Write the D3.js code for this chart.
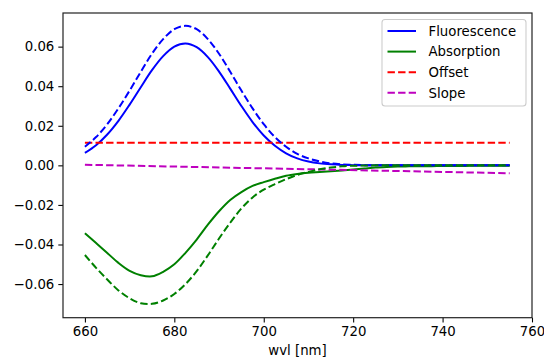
<!DOCTYPE html>
<html>
<head>
<meta charset="utf-8">
<script src="https://cdn.jsdelivr.net/npm/d3@7"></script>
<style>
  html, body { margin: 0; padding: 0; background: #fff; }
  svg { display: block; font-family: "DejaVu Sans", sans-serif; }
</style>
</head>
<body>
<svg id="chart" width="544" height="360"></svg>
<script>
// wavelengths (nm)
const wvl = [660, 662.5, 665, 667.5, 670, 672.5, 675, 677.5, 680, 682.5, 685, 687.5, 690, 692.5, 695, 697.5, 700, 702.5, 705, 707.5, 710, 712.5, 715, 717.5, 720, 722.5, 725, 727.5, 730, 732.5, 735, 737.5, 740, 742.5, 745, 747.5, 750, 752.5, 755];

const fluorescence = [0.0063, 0.0102, 0.0156, 0.0225, 0.0307, 0.0395, 0.0481, 0.0552, 0.0600, 0.0616, 0.0597, 0.0547, 0.0474, 0.0388, 0.0300, 0.0219, 0.0151, 0.0099, 0.0061, 0.0035, 0.0019, 0.0010, 0.0005, 0.0002, 0.0001, 0.0000, 0.0000, 0.0000, 0.0000, 0.0000, 0.0000, 0.0000, 0.0000, 0.0000, 0.0000, 0.0000, 0.0000, 0.0000, 0.0000];

const fluorescenceFit = [0.0094, 0.0143, 0.0208, 0.0288, 0.0378, 0.0473, 0.0564, 0.0638, 0.0688, 0.0705, 0.0688, 0.0638, 0.0564, 0.0473, 0.0378, 0.0288, 0.0208, 0.0143, 0.0094, 0.0058, 0.0035, 0.0020, 0.0010, 0.0005, 0.0003, 0.0001, 0.0000, 0.0000, 0.0000, 0.0000, 0.0000, 0.0000, 0.0000, 0.0000, 0.0000, 0.0000, 0.0000, 0.0000, 0.0000];

const absorption = [-0.0343, -0.0393, -0.0443, -0.0493, -0.0533, -0.0555, -0.0561, -0.0538, -0.0500, -0.0442, -0.0375, -0.0300, -0.0232, -0.0175, -0.0135, -0.0104, -0.0085, -0.0068, -0.0053, -0.0044, -0.0038, -0.0034, -0.0030, -0.0026, -0.0021, -0.0016, -0.0011, -0.0008, -0.0006, -0.0005, -0.0004, -0.0004, -0.0003, -0.0003, -0.0003, -0.0002, -0.0002, -0.0002, -0.0002];

const absorptionFit = [-0.0453, -0.0518, -0.0577, -0.0632, -0.0672, -0.0697, -0.0700, -0.0683, -0.0650, -0.0600, -0.0535, -0.0455, -0.0370, -0.0290, -0.0218, -0.0162, -0.0123, -0.0095, -0.0070, -0.0048, -0.0033, -0.0020, -0.0011, -0.0005, -0.0002, -0.0001, 0.0000, 0.0000, 0.0000, 0.0000, 0.0000, 0.0000, 0.0000, 0.0000, 0.0000, 0.0000, 0.0000, 0.0000, 0.0000];

const lineWvl = [660, 755];
const offset = [0.0114, 0.0114];
const slope = [0.0003, -0.0040];

const xTicks = [660, 680, 700, 720, 740, 760];
const yTicks = [-0.06, -0.04, -0.02, 0.00, 0.02, 0.04, 0.06];
const legendLabels = ["Fluorescence", "Absorption", "Offset", "Slope"];

const svg = d3.select("#chart");
const L = 63, R = 532, T = 13, B = 317.7;

const x = d3.scaleLinear().domain([655.1, 760]).range([L, R]);
const y = d3.scaleLinear().domain([-0.077, 0.077]).range([B, T]);

const plot = svg.append("g");
const clipId = "clip";
svg.append("defs").append("clipPath").attr("id", clipId)
  .append("rect").attr("x", L).attr("y", T).attr("width", R - L).attr("height", B - T);

const line = d3.line().x(d => x(d[0])).y(d => y(d[1])).curve(d3.curveCatmullRom.alpha(0.5));
const dash = "7.4,3.2";

const series = [
  { xs: wvl, ys: fluorescence, color: "#0000ff", dash: null },
  { xs: wvl, ys: absorption, color: "#008000", dash: null },
  { xs: lineWvl, ys: offset, color: "#ff0000", dash: dash },
  { xs: lineWvl, ys: slope, color: "#bf00bf", dash: dash },
  { xs: wvl, ys: fluorescenceFit, color: "#0000ff", dash: dash },
  { xs: wvl, ys: absorptionFit, color: "#008000", dash: dash }
];

const lines = plot.append("g").attr("clip-path", `url(#${clipId})`);
series.forEach(s => {
  lines.append("path")
    .attr("d", line(s.xs.map((v, i) => [v, s.ys[i]])))
    .attr("fill", "none")
    .attr("stroke", s.color)
    .attr("stroke-width", 2)
    .attr("stroke-dasharray", s.dash)
    .attr("stroke-linecap", "butt");
});

// axes
const fmtY = v => d3.format(".2f")(v).replace("-", "\u2212");
const xAxis = svg.append("g").attr("transform", `translate(0,${B})`)
  .call(d3.axisBottom(x).tickValues(xTicks).tickFormat(d3.format("d")).tickSize(4.7).tickPadding(4));
const yAxis = svg.append("g").attr("transform", `translate(${L},0)`)
  .call(d3.axisLeft(y).tickValues(yTicks).tickFormat(fmtY).tickSize(4.7).tickPadding(4));

[xAxis, yAxis].forEach(a => {
  a.select(".domain").remove();
  a.selectAll(".tick line").attr("stroke", "#000").attr("stroke-width", 1.07);
  a.selectAll(".tick text").attr("font-size", "13.3px").attr("fill", "#000")
    .attr("font-family", "DejaVu Sans, sans-serif");
});

// frame
svg.append("rect").attr("x", L).attr("y", T).attr("width", R - L).attr("height", B - T)
  .attr("fill", "none").attr("stroke", "#222").attr("stroke-width", 1.2);

svg.append("text").attr("x", (L + R) / 2).attr("y", 355)
  .attr("text-anchor", "middle").attr("font-size", "13.3px").attr("fill", "#000")
  .text("wvl [nm]");

// legend
const lg = svg.append("g");
lg.append("rect").attr("x", 382).attr("y", 19.5).attr("width", 144).attr("height", 86.5)
  .attr("rx", 3).attr("fill", "#fff").attr("fill-opacity", 0.8)
  .attr("stroke", "#cccccc").attr("stroke-width", 1.07);
const legendStyles = [series[0], series[1], series[2], series[3]];
legendLabels.forEach((lab, i) => {
  const cy = 31 + i * 20.6;
  lg.append("line").attr("x1", 387.5).attr("x2", 416).attr("y1", cy).attr("y2", cy)
    .attr("stroke", legendStyles[i].color).attr("stroke-width", 2)
    .attr("stroke-dasharray", legendStyles[i].dash);
  lg.append("text").attr("x", 428.5).attr("y", cy).attr("dy", "0.36em")
    .attr("font-size", "13.3px").attr("fill", "#000").text(lab);
});
</script>
</body>
</html>
